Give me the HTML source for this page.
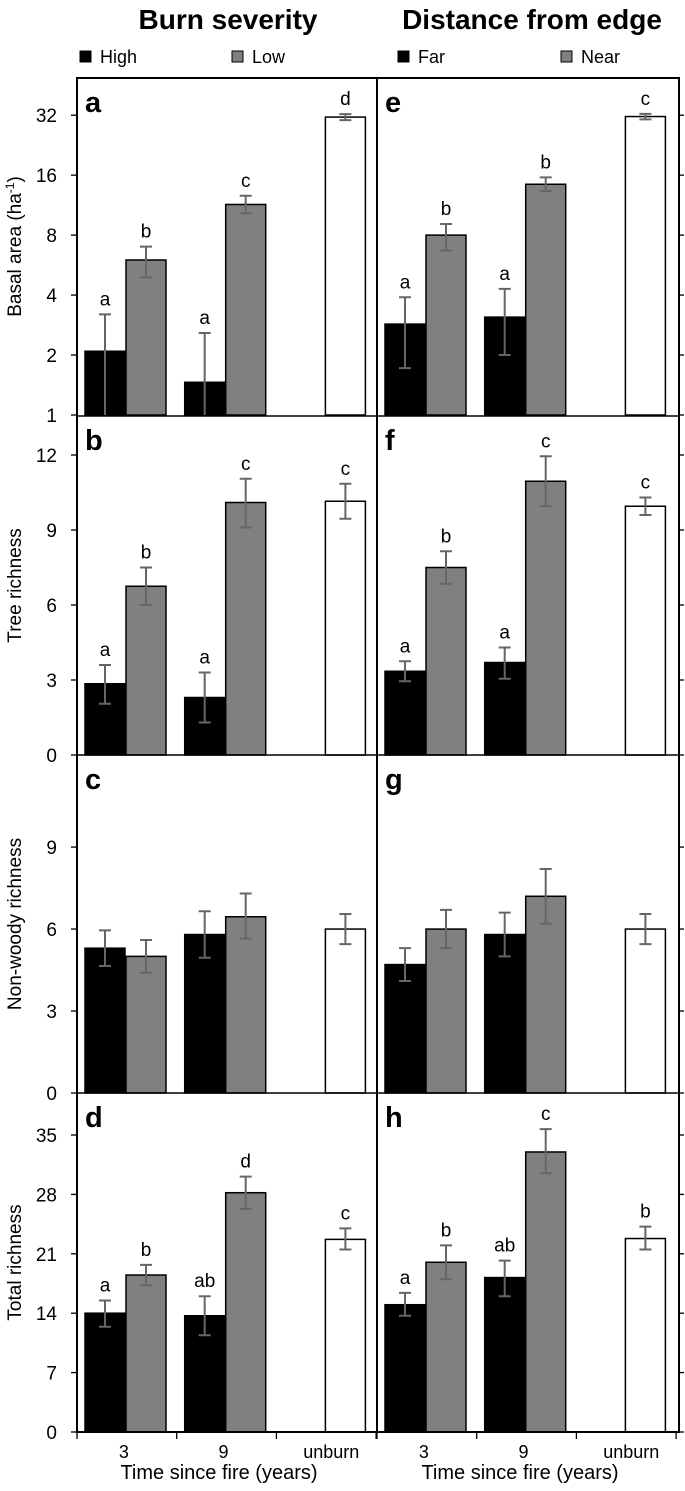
<!DOCTYPE html>
<html><head><meta charset="utf-8"><style>
body{margin:0;background:#fff;}
svg{display:block;font-family:"Liberation Sans",sans-serif;}
</style></head><body>
<svg id="fig" width="685" height="1491" xmlns="http://www.w3.org/2000/svg"></svg>
<script>
// ---- data ----
const categories = ["3", "9", "unburn"];
const ticksA = [1, 2, 4, 8, 16, 32];
const ticksB = [0, 3, 6, 9, 12];
const ticksC = [0, 3, 6, 9];
const ticksD = [0, 7, 14, 21, 28, 35];
const aVal = [2.09, 6.0, 1.46, 11.4, 31.3], aLo = [1, 4.9, 1, 10.3, 30.2], aHi = [3.2, 7.0, 2.58, 12.6, 32.4];
const eVal = [2.86, 8.0, 3.1, 14.4, 31.5], eLo = [1.72, 6.7, 2.0, 13.3, 30.5], eHi = [3.9, 9.1, 4.3, 15.6, 32.5];
const bVal = [2.85, 6.75, 2.3, 10.1, 10.15], bLo = [2.05, 6.0, 1.3, 9.1, 9.45], bHi = [3.6, 7.5, 3.3, 11.05, 10.85];
const fVal = [3.35, 7.5, 3.7, 10.95, 9.95], fLo = [2.95, 6.85, 3.05, 9.95, 9.6], fHi = [3.75, 8.15, 4.3, 11.95, 10.3];
const cVal = [5.3, 5.0, 5.8, 6.45, 6.0], cLo = [4.65, 4.4, 4.95, 5.65, 5.45], cHi = [5.95, 5.6, 6.65, 7.3, 6.55];
const gVal = [4.7, 6.0, 5.8, 7.2, 6.0], gLo = [4.1, 5.3, 5.0, 6.2, 5.45], gHi = [5.3, 6.7, 6.6, 8.2, 6.55];
const dVal = [14, 18.5, 13.7, 28.2, 22.7], dLo = [12.4, 17.3, 11.4, 26.3, 21.5], dHi = [15.5, 19.7, 16, 30.1, 24];
const hVal = [15, 20, 18.2, 33, 22.8], hLo = [13.7, 18, 16, 30.5, 21.5], hHi = [16.4, 22, 20.2, 35.7, 24.2];
const aLet = ["a","b","a","c","d"], eLet = ["a","b","a","b","c"];
const bLet = ["a","b","a","c","c"], fLet = ["a","b","a","c","c"];
const cLet = ["","","","",""], gLet = ["","","","",""];
const dLet = ["a","b","ab","d","c"], hLet = ["a","b","ab","c","b"];

const NS = "http://www.w3.org/2000/svg";
const svg = document.getElementById("fig");
function mk(tag, attrs, parent) {
  const el = document.createElementNS(NS, tag);
  for (const k in attrs) el.setAttribute(k, attrs[k]);
  (parent || svg).appendChild(el);
  return el;
}
function txt(x, y, s, size, attrs) {
  const t = mk("text", Object.assign({x: x, y: y, "font-size": size, fill: "#000"}, attrs || {}));
  t.textContent = s;
  return t;
}
const cols = [{x0: 77, x1: 377}, {x0: 377, x1: 679}];
const rows = [
  {top: 78, bot: 415, log: true, min: 1, max: Math.pow(2, 5.62), ticks: ticksA, title: "Basal area (ha", name: "basal-area"},
  {top: 416, bot: 755, min: 0, max: 13.56, ticks: ticksB, title: "Tree richness", name: "tree-richness"},
  {top: 755, bot: 1093, min: 0, max: 12.37, ticks: ticksC, title: "Non-woody richness", name: "non-woody-richness"},
  {top: 1093, bot: 1432, min: 0, max: 39.95, ticks: ticksD, title: "Total richness", name: "total-richness"}
];
const panels = [
  [["a", aVal, aLo, aHi, aLet], ["e", eVal, eLo, eHi, eLet]],
  [["b", bVal, bLo, bHi, bLet], ["f", fVal, fLo, fHi, fLet]],
  [["c", cVal, cLo, cHi, cLet], ["g", gVal, gLo, gHi, gLet]],
  [["d", dVal, dLo, dHi, dLet], ["h", hVal, hLo, hHi, hLet]]
];
function yScale(r, v) {
  if (r.log) return r.bot - (Math.log2(v) - Math.log2(r.min)) / (Math.log2(r.max) - Math.log2(r.min)) * (r.bot - r.top);
  return r.bot - (v - r.min) / (r.max - r.min) * (r.bot - r.top);
}
const catW = 99.7;
function xCat(col, i) { return cols[col].x0 + i * catW; }

let t = txt(228, 29, "Burn severity", 28, {"font-weight": "bold", "text-anchor": "middle"});


t = txt(532, 29, "Distance from edge", 28, {"font-weight": "bold", "text-anchor": "middle"});


const legend = [[80, "#000", "High", "legend-high"], [232, "#808080", "Low", "legend-low"], [398, "#000", "Far", "legend-far"], [561, "#808080", "Near", "legend-near"]];
legend.forEach(l => {
  const g = mk("g", {});
  
  
  mk("rect", {x: l[0], y: 51, width: 11, height: 11, fill: l[1], stroke: "#000", "stroke-width": 1}, g);
  const tt = mk("text", {x: l[0] + 20, y: 63, "font-size": 18}, g);
  tt.textContent = l[2];
});

rows.forEach((r, ri) => {
  r.ticks.forEach(v => {
    const y = yScale(r, v);
    const tk = mk("line", {x1: 71, x2: 77, y1: y, y2: y, stroke: "#000", "stroke-width": 1.3});
    
    
    const lb = txt(57, y + 7, String(v), 19, {"text-anchor": "end"});
    
    
    const tk2 = mk("line", {x1: 679, x2: 684, y1: y, y2: y, stroke: "#000", "stroke-width": 1.3});
    
    
  });
  const cy = (r.top + r.bot) / 2;
  const yt = mk("text", {x: 0, y: 0, "font-size": 19, "text-anchor": "middle", transform: "translate(21," + cy + ") rotate(-90)"});
  
  
  if (r.log) {
    yt.appendChild(document.createTextNode("Basal area (ha"));
    const sp = mk("tspan", {dy: -7, "font-size": 12}, yt); sp.textContent = "-1";
    const sp2 = mk("tspan", {dy: 7}, yt); sp2.textContent = ")";
  } else yt.textContent = r.title;

  [0, 1].forEach(ci => {
    const p = panels[ri][ci];
    const vals = p[1], lo = p[2], hi = p[3], lets = p[4];
    const g = mk("g", {});
    
    
    const lab = mk("text", {x: cols[ci].x0 + 8, y: r.top + 34, "font-size": 29, "font-weight": "bold"}, g);
    lab.textContent = p[0];
    vals.forEach((v, k) => {
      const cat = k < 4 ? Math.floor(k / 2) : 2;
      const slot = k < 4 ? k % 2 : 1;
      const bx = xCat(ci, cat) + 8 + slot * 41;
      const fill = k === 4 ? "#fff" : (slot === 0 ? "#000" : "#808080");
      const yv = yScale(r, v);
      const bar = mk("rect", {x: bx, y: yv, width: 40, height: r.bot - yv, fill: fill, stroke: "#000", "stroke-width": 1.5}, g);
      
      
      const ex = bx + 20, yh = yScale(r, hi[k]), yl = Math.min(yScale(r, lo[k]), r.bot);
      const eb = mk("path", {d: "M" + ex + " " + yh + "V" + yl + "M" + (ex - 6) + " " + yh + "H" + (ex + 6) + (yl < r.bot - 1 ? "M" + (ex - 6) + " " + yl + "H" + (ex + 6) : ""), stroke: "#666", "stroke-width": 2, fill: "none"}, g);
      
      
      if (lets[k]) {
        const lt = mk("text", {x: ex, y: yh - 9, "font-size": 19, "text-anchor": "middle"}, g);
        lt.textContent = lets[k];
        
        
      }
    });
  });
  if (ri > 0) {
    const hl = mk("line", {x1: 77, x2: 679, y1: r.top, y2: r.top, stroke: "#000", "stroke-width": 1.5});
    
    
  }
});
cols.forEach((c, ci) => {
  const b = mk("rect", {x: c.x0, y: 78, width: c.x1 - c.x0, height: 1432 - 78, fill: "none", stroke: "#000", "stroke-width": 2});
  
  
  for (let i = 0; i <= 3; i++) {
    const x = xCat(ci, i);
    const tk = mk("line", {x1: x, x2: x, y1: 1432, y2: 1439, stroke: "#000", "stroke-width": 1.3});
    
    
  }
  categories.forEach((cname, i) => {
    const l = txt(xCat(ci, i) + catW / 2 + (i === 2 ? 5 : -3), 1458, cname, 18, {"text-anchor": "middle"});
    
    
  });
  const xt = txt(c.x0 + 2 + (c.x1 - c.x0) / 2 - 10, 1479, "Time since fire (years)", 20, {"text-anchor": "middle"});
  
  
});
</script>
</body></html>
